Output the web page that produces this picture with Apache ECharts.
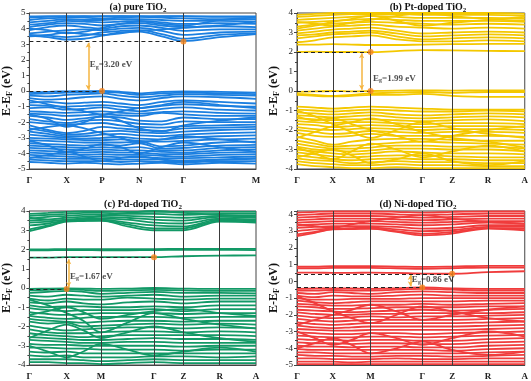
<!DOCTYPE html>
<html><head><meta charset="utf-8">
<script src="https://cdn.jsdelivr.net/npm/echarts@6/dist/echarts.min.js"></script>
<style>html,body{margin:0;padding:0;background:#fff}#c{width:531px;height:381px}</style>
</head><body><div id="c"></div>
<script>
// ---------- (a) pure TiO2 ----------
const kA = [0, 19, 38, 56, 74, 93, 112, 135, 157, 194, 231];
const hsA = [0, 38, 74, 112, 157, 231];
const hsLabA = ['Γ', 'X', 'P', 'N', 'Γ', 'M'];
const cbA = [
  [3.55, 3.45, 3.30, 3.35, 3.55, 3.75, 3.80, 3.50, 3.20, 3.45, 3.65],
  [3.60, 3.55, 3.45, 3.55, 3.75, 3.85, 3.90, 3.65, 3.35, 3.60, 3.70],
  [3.70, 3.80, 3.90, 3.95, 3.90, 4.00, 4.05, 3.85, 3.60, 3.75, 3.80],
  [3.90, 4.10, 4.20, 4.10, 4.00, 4.15, 4.20, 4.05, 3.85, 3.95, 3.95],
  [4.10, 4.25, 4.35, 4.30, 4.20, 4.30, 4.35, 4.20, 4.10, 4.15, 4.10],
  [4.25, 4.35, 4.50, 4.45, 4.40, 4.45, 4.50, 4.40, 4.30, 4.35, 4.30],
  [4.40, 4.50, 4.60, 4.55, 4.55, 4.60, 4.60, 4.55, 4.50, 4.50, 4.45],
  [4.55, 4.65, 4.70, 4.70, 4.65, 4.70, 4.75, 4.70, 4.65, 4.60, 4.60],
  [4.70, 4.75, 4.78, 4.80, 4.78, 4.80, 4.80, 4.78, 4.78, 4.75, 4.75],
  [4.78, 4.80, 4.80, 4.78, 4.80, 4.80, 4.78, 4.80, 4.80, 4.78, 4.78],
  [3.50, 3.60, 3.75, 3.65, 3.60, 3.70, 3.85, 3.95, 4.05, 4.20, 4.45],
  [4.00, 3.90, 3.70, 3.80, 4.05, 4.30, 4.45, 4.30, 4.20, 4.55, 4.70]
];
const vbA = [
  [-0.10, -0.05, -0.02, -0.01, 0.00, -0.05, -0.15, -0.05, -0.02, -0.05, -0.10],
  [-0.20, -0.15, -0.10, -0.08, -0.05, -0.12, -0.25, -0.15, -0.10, -0.15, -0.20],
  [-0.30, -0.35, -0.25, -0.20, -0.15, -0.30, -0.40, -0.30, -0.20, -0.25, -0.30],
  [-0.45, -0.55, -0.50, -0.40, -0.35, -0.50, -0.60, -0.45, -0.35, -0.40, -0.50],
  [-0.75, -0.70, -0.80, -0.75, -0.70, -0.80, -0.90, -0.70, -0.60, -0.70, -0.80],
  [-0.90, -0.95, -1.00, -0.95, -0.90, -1.00, -1.10, -0.95, -0.85, -0.95, -1.00],
  [-1.10, -1.05, -1.20, -1.15, -1.05, -1.20, -1.30, -1.15, -1.05, -1.20, -1.25],
  [-1.30, -1.35, -1.40, -1.35, -1.30, -1.40, -1.45, -1.35, -1.30, -1.40, -1.45],
  [-1.45, -1.50, -1.60, -1.55, -1.50, -1.55, -1.60, -1.40, -1.50, -1.60, -1.60],
  [-1.60, -1.70, -1.85, -1.75, -1.65, -1.70, -1.90, -1.95, -1.70, -1.80, -1.80],
  [-1.80, -1.95, -2.05, -1.90, -1.85, -1.95, -2.10, -2.15, -1.95, -2.00, -2.00],
  [-2.00, -2.10, -2.15, -2.10, -2.05, -2.20, -2.30, -2.35, -2.25, -2.20, -2.15],
  [-2.20, -2.50, -2.70, -2.55, -2.30, -2.40, -2.50, -2.55, -2.40, -2.35, -2.30],
  [-2.40, -2.60, -2.80, -2.75, -2.60, -2.55, -2.65, -2.70, -2.60, -2.50, -2.45],
  [-2.60, -2.75, -2.90, -2.90, -2.80, -2.75, -2.85, -2.90, -2.80, -2.70, -2.65],
  [-2.80, -2.90, -3.00, -3.05, -3.00, -2.95, -3.05, -3.10, -3.00, -2.90, -2.85],
  [-3.00, -3.05, -3.10, -3.15, -3.15, -3.10, -3.20, -3.25, -3.20, -3.10, -3.05],
  [-3.15, -3.20, -3.25, -3.30, -3.30, -3.30, -3.25, -3.55, -3.50, -3.30, -3.25],
  [-3.35, -3.40, -3.45, -3.50, -3.45, -3.50, -3.35, -3.70, -3.65, -3.50, -3.45],
  [-3.50, -3.55, -3.60, -3.65, -3.60, -3.65, -3.60, -3.80, -3.80, -3.65, -3.60],
  [-3.65, -3.70, -3.75, -3.80, -3.75, -3.80, -3.80, -3.90, -3.95, -3.80, -3.75],
  [-3.80, -3.85, -3.90, -3.95, -3.90, -3.95, -3.95, -4.05, -4.05, -3.95, -3.90],
  [-3.95, -4.00, -4.05, -4.10, -4.05, -4.10, -4.10, -4.15, -4.20, -4.10, -4.05],
  [-4.10, -4.15, -4.20, -4.25, -4.20, -4.25, -4.25, -4.30, -4.30, -4.25, -4.20],
  [-4.25, -4.30, -4.35, -4.35, -4.35, -4.40, -4.40, -4.40, -4.45, -4.40, -4.35],
  [-4.40, -4.45, -4.50, -4.50, -4.50, -4.55, -4.50, -4.55, -4.55, -4.50, -4.50],
  [-4.55, -4.60, -4.65, -4.60, -4.65, -4.70, -4.65, -4.60, -4.70, -4.60, -4.65],
  [-0.60, -0.85, -1.10, -1.30, -1.50, -1.30, -1.10, -0.90, -0.70, -0.90, -1.10],
  [-1.50, -1.80, -2.30, -2.00, -1.60, -1.90, -2.40, -2.60, -2.20, -1.90, -1.70],
  [-2.50, -2.30, -2.20, -2.40, -2.70, -3.00, -3.30, -3.10, -2.90, -3.10, -3.30],
  [-3.20, -3.50, -3.90, -3.70, -3.40, -3.60, -4.00, -3.60, -3.30, -3.60, -3.90],
  [-4.30, -4.10, -3.90, -4.20, -4.50, -4.30, -4.20, -4.40, -4.60, -4.40, -4.30]
];
const vbmA = [74, 0.0], cbmA = [157, 3.18], arrowA = [60, 0.08, 3.1], txtA = [61, 1.7];

// ---------- (b) Pt-doped TiO2 ----------
const kB = [0, 18, 36, 55, 74, 100, 126, 156, 192, 229];
const hsB = [0, 36, 74, 126, 156, 192, 229];
const hsLabB = ['Γ', 'X', 'M', 'Γ', 'Z', 'R', 'A'];
const cbB = [
  [2.00, 2.02, 2.00, 2.00, 1.99, 2.05, 2.10, 2.08, 2.06, 2.04],
  [2.38, 2.38, 2.40, 2.38, 2.36, 2.36, 2.38, 2.40, 2.42, 2.42],
  [2.50, 2.60, 2.75, 2.80, 2.85, 2.65, 2.55, 2.55, 2.60, 2.55],
  [2.70, 2.80, 2.90, 2.95, 3.00, 2.80, 2.65, 2.70, 2.75, 2.70],
  [2.85, 2.90, 3.00, 3.05, 3.10, 2.95, 2.80, 2.85, 2.90, 2.85],
  [2.95, 3.05, 3.15, 3.20, 3.25, 3.10, 2.95, 3.00, 3.05, 3.00],
  [3.10, 3.20, 3.30, 3.35, 3.40, 3.30, 3.25, 3.20, 3.25, 3.20],
  [3.30, 3.40, 3.45, 3.50, 3.55, 3.50, 3.45, 3.40, 3.45, 3.40],
  [3.50, 3.55, 3.60, 3.65, 3.70, 3.65, 3.60, 3.60, 3.60, 3.55],
  [3.65, 3.70, 3.75, 3.80, 3.85, 3.80, 3.75, 3.75, 3.75, 3.70],
  [3.80, 3.85, 3.90, 3.95, 3.95, 3.95, 3.90, 3.90, 3.90, 3.85],
  [3.90, 3.95, 4.00, 4.05, 4.05, 4.05, 4.00, 4.00, 4.00, 3.95],
  [3.20, 3.35, 3.55, 3.70, 3.85, 3.60, 3.35, 3.50, 3.65, 3.80],
  [3.55, 3.45, 3.35, 3.50, 3.65, 3.85, 4.00, 3.85, 3.70, 3.60]
];
const vbB = [
  [-0.05, -0.02, 0.00, -0.02, 0.00, 0.02, 0.03, 0.02, 0.03, 0.03],
  [-0.15, -0.20, -0.25, -0.20, -0.12, -0.08, -0.05, -0.10, -0.05, -0.05],
  [-0.20, -0.25, -0.28, -0.25, -0.20, -0.20, -0.15, -0.25, -0.30, -0.30],
  [-0.80, -0.85, -0.90, -0.85, -0.80, -0.85, -0.90, -0.95, -0.95, -0.95],
  [-0.95, -1.00, -1.05, -1.00, -0.95, -1.00, -1.05, -1.05, -1.00, -1.05],
  [-1.10, -1.15, -1.20, -1.15, -1.10, -1.20, -1.25, -1.20, -1.15, -1.20],
  [-1.25, -1.30, -1.35, -1.30, -1.25, -1.35, -1.40, -1.35, -1.30, -1.35],
  [-1.40, -1.45, -1.50, -1.45, -1.45, -1.50, -1.55, -1.50, -1.45, -1.55],
  [-1.55, -1.60, -1.65, -1.60, -1.60, -1.65, -1.70, -1.65, -1.65, -1.70],
  [-1.70, -1.75, -1.85, -1.80, -1.75, -1.80, -1.85, -1.80, -1.80, -1.85],
  [-1.85, -1.95, -2.00, -1.95, -1.90, -1.95, -2.00, -1.95, -1.95, -2.00],
  [-2.00, -2.10, -2.20, -2.15, -2.05, -2.10, -2.15, -2.10, -2.10, -2.15],
  [-2.15, -2.30, -2.35, -2.30, -2.20, -2.30, -2.30, -2.30, -2.30, -2.35],
  [-2.35, -2.55, -2.75, -2.60, -2.50, -2.45, -2.45, -2.50, -2.55, -2.55],
  [-2.55, -2.70, -2.85, -2.80, -2.75, -2.65, -2.60, -2.65, -2.70, -2.75],
  [-2.70, -2.85, -2.95, -2.95, -2.90, -2.80, -2.80, -2.85, -2.85, -2.95],
  [-2.85, -3.00, -3.05, -3.10, -3.05, -2.95, -2.95, -3.00, -3.00, -3.10],
  [-3.00, -3.10, -3.20, -3.25, -3.20, -3.10, -3.15, -3.20, -3.20, -3.25],
  [-3.15, -3.25, -3.35, -3.40, -3.35, -3.30, -3.30, -3.35, -3.40, -3.40],
  [-3.30, -3.40, -3.50, -3.55, -3.50, -3.45, -3.50, -3.50, -3.55, -3.55],
  [-3.45, -3.55, -3.60, -3.70, -3.65, -3.60, -3.65, -3.65, -3.70, -3.70],
  [-3.60, -3.70, -3.75, -3.80, -3.80, -3.75, -3.80, -3.80, -3.85, -3.85],
  [-3.75, -3.85, -3.90, -3.95, -3.95, -3.90, -3.95, -3.95, -3.95, -3.95],
  [-1.00, -1.30, -1.70, -2.10, -2.40, -2.00, -1.60, -1.90, -2.20, -2.40],
  [-2.40, -2.10, -1.80, -1.60, -1.40, -1.70, -2.10, -2.40, -2.60, -2.90],
  [-2.90, -3.20, -3.50, -3.10, -2.70, -3.00, -3.40, -3.10, -2.80, -3.10],
  [-3.40, -3.20, -3.00, -3.30, -3.70, -3.50, -3.20, -3.60, -3.80, -3.60],
  [-1.30, -1.50, -1.40, -1.70, -2.00, -2.30, -2.60, -2.30, -2.00, -1.80]
];
const vbmB = [74, 0.0], cbmB = [74, 2.0], arrowB = [65, 0.06, 1.93], txtB = [76, 0.65];

// ---------- (c) Pd-doped TiO2 ----------
const kC = [0, 19, 38, 55, 73, 100, 127, 157, 194, 231];
const hsC = [0, 38, 73, 127, 157, 194, 231];
const hsLabC = ['Γ', 'X', 'M', 'Γ', 'Z', 'R', 'A'];
const cbC = [
  [1.58, 1.58, 1.60, 1.60, 1.60, 1.60, 1.60, 1.65, 1.68, 1.70],
  [1.95, 1.96, 1.97, 1.97, 1.96, 1.96, 1.97, 1.98, 1.98, 1.97],
  [2.00, 2.01, 2.02, 2.02, 2.02, 2.02, 2.02, 2.03, 2.03, 2.03],
  [2.95, 3.20, 3.45, 3.48, 3.50, 3.20, 3.00, 3.00, 3.45, 3.40],
  [3.05, 3.25, 3.48, 3.50, 3.50, 3.30, 3.10, 3.10, 3.50, 3.45],
  [3.25, 3.35, 3.50, 3.55, 3.55, 3.40, 3.25, 3.20, 3.55, 3.50],
  [3.40, 3.45, 3.55, 3.60, 3.60, 3.55, 3.40, 3.35, 3.60, 3.55],
  [3.50, 3.55, 3.65, 3.70, 3.70, 3.65, 3.55, 3.50, 3.70, 3.65],
  [3.60, 3.70, 3.75, 3.80, 3.80, 3.75, 3.70, 3.65, 3.75, 3.75],
  [3.75, 3.80, 3.85, 3.90, 3.90, 3.85, 3.85, 3.80, 3.85, 3.85],
  [3.85, 3.90, 3.95, 3.98, 3.98, 3.95, 3.95, 3.95, 3.95, 3.95],
  [3.65, 3.55, 3.50, 3.60, 3.75, 3.90, 4.00, 3.90, 3.80, 3.70]
];
const vbC = [
  [-0.05, -0.03, -0.02, -0.03, -0.05, -0.03, 0.00, -0.03, -0.05, -0.05],
  [-0.12, -0.10, -0.05, -0.10, -0.15, -0.12, -0.10, -0.12, -0.15, -0.15],
  [-0.25, -0.20, -0.15, -0.20, -0.30, -0.25, -0.20, -0.25, -0.25, -0.28],
  [-0.40, -0.45, -0.35, -0.40, -0.45, -0.40, -0.35, -0.45, -0.40, -0.40],
  [-0.55, -0.65, -0.55, -0.60, -0.60, -0.50, -0.55, -0.60, -0.55, -0.55],
  [-0.75, -0.80, -0.70, -0.80, -0.85, -0.75, -0.70, -0.80, -0.70, -0.70],
  [-0.90, -1.00, -0.95, -0.95, -1.00, -1.00, -0.95, -1.00, -0.90, -0.90],
  [-1.05, -1.15, -1.20, -1.15, -1.15, -1.15, -1.10, -1.20, -1.10, -1.10],
  [-1.25, -1.35, -1.40, -1.35, -1.30, -1.30, -1.30, -1.35, -1.30, -1.30],
  [-1.45, -1.55, -1.60, -1.55, -1.50, -1.50, -1.50, -1.55, -1.50, -1.50],
  [-1.60, -1.70, -1.75, -1.80, -1.75, -1.70, -1.70, -1.75, -1.70, -1.70],
  [-1.75, -1.85, -1.80, -2.00, -1.95, -1.90, -1.85, -1.90, -1.85, -1.90],
  [-1.95, -2.10, -2.20, -2.15, -2.10, -2.05, -2.05, -2.10, -2.05, -2.10],
  [-2.15, -2.30, -2.35, -2.35, -2.30, -2.25, -2.25, -2.30, -2.25, -2.30],
  [-2.35, -2.45, -2.50, -2.55, -2.50, -2.45, -2.45, -2.45, -2.45, -2.50],
  [-2.55, -2.60, -2.65, -2.70, -2.70, -2.65, -2.60, -2.65, -2.65, -2.70],
  [-2.70, -2.75, -2.80, -2.85, -2.85, -2.80, -2.80, -2.85, -2.85, -2.85],
  [-2.90, -2.95, -2.95, -3.00, -3.00, -3.00, -3.00, -3.05, -3.00, -3.00],
  [-3.10, -3.10, -3.15, -3.15, -3.20, -3.20, -3.20, -3.25, -3.20, -3.20],
  [-3.30, -3.35, -3.30, -3.40, -3.40, -3.40, -3.40, -3.40, -3.40, -3.40],
  [-3.50, -3.55, -3.50, -3.60, -3.60, -3.60, -3.55, -3.55, -3.60, -3.55],
  [-3.70, -3.70, -3.70, -3.75, -3.80, -3.75, -3.70, -3.75, -3.75, -3.75],
  [-3.85, -3.85, -3.90, -3.90, -3.95, -3.90, -3.85, -3.90, -3.90, -3.90],
  [-0.60, -0.90, -1.30, -1.70, -2.30, -1.80, -1.30, -1.60, -1.90, -2.10],
  [-2.60, -2.20, -1.90, -2.20, -2.60, -2.30, -2.00, -2.30, -2.60, -2.80],
  [-3.00, -3.30, -3.60, -3.30, -2.90, -3.20, -3.50, -3.30, -3.10, -3.30],
  [-1.40, -1.20, -1.00, -1.25, -1.60, -1.40, -1.20, -1.10, -1.30, -1.45]
];
const vbmC = [38, -0.05], cbmC = [127, 1.6], arrowC = [40, 0.05, 1.5], txtC = [41, 0.6];

// ---------- (d) Ni-doped TiO2 ----------
const kD = [0, 18, 36, 55, 74, 100, 126, 156, 192, 229];
const hsD = [0, 36, 74, 126, 156, 192, 229];
const hsLabD = ['Γ', 'X', 'M', 'Γ', 'Z', 'R', 'A'];
const cbD = [
  [0.52, 0.52, 0.50, 0.50, 0.52, 0.50, 0.46, 0.45, 0.55, 0.60],
  [0.78, 0.78, 0.80, 0.80, 0.80, 0.78, 0.75, 0.78, 0.82, 0.82],
  [0.88, 0.88, 0.90, 0.90, 0.90, 0.88, 0.86, 0.88, 0.92, 0.92],
  [2.70, 2.90, 3.10, 3.12, 3.15, 2.95, 2.75, 2.85, 3.15, 3.05],
  [2.80, 2.95, 3.12, 3.15, 3.15, 3.00, 2.85, 2.95, 3.18, 3.15],
  [3.00, 3.10, 3.15, 3.18, 3.20, 3.10, 3.00, 3.05, 3.25, 3.25],
  [3.20, 3.25, 3.30, 3.30, 3.30, 3.25, 3.15, 3.20, 3.35, 3.35],
  [3.35, 3.40, 3.45, 3.45, 3.45, 3.40, 3.35, 3.40, 3.50, 3.45],
  [3.50, 3.55, 3.60, 3.60, 3.60, 3.55, 3.50, 3.55, 3.60, 3.60],
  [3.65, 3.70, 3.75, 3.75, 3.75, 3.70, 3.65, 3.70, 3.75, 3.75],
  [3.80, 3.85, 3.90, 3.90, 3.90, 3.85, 3.80, 3.85, 3.90, 3.90],
  [3.95, 4.00, 4.05, 4.05, 4.05, 4.00, 3.95, 4.00, 4.05, 4.05],
  [4.10, 4.15, 4.18, 4.18, 4.18, 4.15, 4.10, 4.15, 4.18, 4.18],
  [3.40, 3.30, 3.20, 3.40, 3.60, 3.80, 3.95, 3.75, 3.55, 3.45]
];
const vbD = [
  [-0.45, -0.42, -0.42, -0.43, -0.45, -0.42, -0.37, -0.42, -0.45, -0.45],
  [-0.55, -0.55, -0.52, -0.55, -0.55, -0.50, -0.45, -0.50, -0.55, -0.55],
  [-0.70, -0.75, -0.65, -0.70, -0.75, -0.65, -0.60, -0.65, -0.70, -0.70],
  [-0.85, -0.95, -0.85, -0.90, -0.90, -0.85, -0.80, -0.85, -0.85, -0.85],
  [-1.00, -1.10, -1.10, -1.05, -1.05, -1.05, -1.00, -1.00, -1.00, -1.00],
  [-1.15, -1.25, -1.30, -1.25, -1.20, -1.20, -1.20, -1.20, -1.15, -1.15],
  [-1.35, -1.40, -1.45, -1.45, -1.40, -1.40, -1.35, -1.40, -1.35, -1.30],
  [-1.50, -1.55, -1.65, -1.65, -1.60, -1.55, -1.55, -1.55, -1.50, -1.50],
  [-1.70, -1.75, -1.80, -1.85, -1.80, -1.75, -1.70, -1.75, -1.70, -1.65],
  [-1.85, -1.95, -2.00, -2.00, -1.95, -1.95, -1.90, -1.90, -1.90, -1.85],
  [-2.05, -2.15, -2.20, -2.15, -2.10, -2.15, -2.10, -2.10, -2.05, -2.00],
  [-2.25, -2.35, -2.40, -2.35, -2.30, -2.30, -2.30, -2.30, -2.25, -2.20],
  [-2.45, -2.55, -2.60, -2.55, -2.50, -2.50, -2.50, -2.50, -2.45, -2.40],
  [-2.65, -2.75, -2.80, -2.75, -2.70, -2.70, -2.70, -2.70, -2.65, -2.60],
  [-2.85, -2.90, -2.95, -2.95, -2.90, -2.90, -2.90, -2.90, -2.85, -2.80],
  [-3.05, -3.10, -3.15, -3.15, -3.10, -3.10, -3.15, -3.10, -3.05, -3.00],
  [-3.25, -3.30, -3.35, -3.35, -3.30, -3.30, -3.35, -3.30, -3.25, -3.20],
  [-3.45, -3.50, -3.50, -3.55, -3.50, -3.50, -3.55, -3.55, -3.45, -3.40],
  [-3.65, -3.70, -3.70, -3.75, -3.70, -3.70, -3.75, -3.75, -3.65, -3.60],
  [-3.85, -3.90, -3.90, -3.95, -3.90, -3.90, -3.95, -3.95, -3.85, -3.80],
  [-4.05, -4.10, -4.10, -4.10, -4.10, -4.10, -4.10, -4.15, -4.05, -4.00],
  [-4.25, -4.25, -4.30, -4.30, -4.30, -4.30, -4.30, -4.30, -4.25, -4.20],
  [-4.40, -4.45, -4.45, -4.50, -4.50, -4.45, -4.45, -4.50, -4.45, -4.40],
  [-4.60, -4.60, -4.65, -4.65, -4.65, -4.60, -4.65, -4.65, -4.60, -4.60],
  [-4.80, -4.80, -4.80, -4.85, -4.80, -4.80, -4.80, -4.80, -4.80, -4.80],
  [-4.95, -4.95, -4.95, -4.95, -4.95, -4.95, -4.95, -4.95, -4.95, -4.95],
  [-0.90, -1.30, -1.80, -2.20, -2.50, -2.00, -1.50, -1.80, -2.20, -2.40],
  [-2.60, -2.30, -2.00, -1.70, -1.40, -1.80, -2.30, -2.00, -1.70, -1.50],
  [-3.00, -3.40, -3.80, -3.50, -3.10, -3.40, -3.80, -3.40, -3.00, -3.30],
  [-4.00, -3.70, -3.40, -3.80, -4.30, -4.00, -3.60, -4.10, -4.40, -4.20]
];
const vbmD = [126, -0.37], cbmD = [156, 0.45], arrowD = [114, -0.3, 0.38], txtD = [115, 0.08];

const titles = ['(a) pure TiO', '(b) Pt-doped TiO', '(c) Pd-doped TiO', '(d) Ni-doped TiO'];
const gaps = ['3.20', '1.99', '1.67', '0.86'];

// ---------- build chart ----------
const SERIF = 'Liberation Serif, Times New Roman, serif';
const panels = [
  {k: kA, hs: hsA, lab: hsLabA, cb: cbA, vb: vbA, vbm: vbmA, cbm: cbmA, arr: arrowA, txt: txtA,
   color: '#1b7fe0', ymin: -5, ymax: 5, grid: {left: 25, top: 13, width: 231, height: 156}, nameGap: 13, tx: 138, ty: 7},
  {k: kB, hs: hsB, lab: hsLabB, cb: cbB, vb: vbB, vbm: vbmB, cbm: cbmB, arr: arrowB, txt: txtB,
   color: '#f4c800', ymin: -4, ymax: 4, grid: {left: 297, top: 13, width: 229, height: 156}, nameGap: 16, tx: 428, ty: 7},
  {k: kC, hs: hsC, lab: hsLabC, cb: cbC, vb: vbC, vbm: vbmC, cbm: cbmC, arr: arrowC, txt: txtC,
   color: '#129966', ymin: -4, ymax: 4, grid: {left: 25, top: 211, width: 231, height: 155}, nameGap: 13, tx: 143, ty: 204},
  {k: kD, hs: hsD, lab: hsLabD, cb: cbD, vb: vbD, vbm: vbmD, cbm: cbmD, arr: arrowD, txt: txtD,
   color: '#f03c3c', ymin: -5, ymax: 4.2, grid: {left: 297, top: 211, width: 229, height: 155}, nameGap: 16, tx: 418, ty: 204}
];

const option = {
  animation: false,
  backgroundColor: '#fff',
  grid: [], xAxis: [], yAxis: [], series: [], graphic: []
};

panels.forEach((p, gi) => {
  option.grid.push(Object.assign({show: true, borderColor: '#444', borderWidth: 1, backgroundColor: 'transparent'}, p.grid));
  const kmax = p.hs[p.hs.length - 1];
  option.xAxis.push({
    type: 'value', gridIndex: gi, min: 0, max: kmax,
    axisLine: {show: true, onZero: false, lineStyle: {color: '#444'}},
    axisTick: {show: false}, splitLine: {show: false},
    axisLabel: {
      customValues: p.hs, margin: 7, color: '#222', fontFamily: SERIF, fontSize: 9, fontWeight: 'bold',
      formatter: v => { const i = p.hs.indexOf(v); return i >= 0 ? p.lab[i] : ''; }
    }
  });
  option.yAxis.push({
    type: 'value', gridIndex: gi, min: p.ymin, max: p.ymax, interval: 1,
    name: 'E-E{s|F} (eV)', nameLocation: 'middle', nameRotate: 90, nameGap: p.nameGap,
    nameTextStyle: {fontFamily: SERIF, fontSize: 12, fontWeight: 'bold', color: '#111',
      rich: {s: {fontFamily: SERIF, fontSize: 8, fontWeight: 'bold', color: '#111', verticalAlign: 'bottom', padding: [6, 0, 0, 0]}}},
    axisLine: {show: true, onZero: false, lineStyle: {color: '#444'}},
    axisTick: {show: true, inside: false, length: 3, lineStyle: {color: '#444'}},
    minorTick: {show: true, splitNumber: 2, length: 2, lineStyle: {color: '#444'}},
    splitLine: {show: false},
    axisLabel: {margin: 4, color: '#222', fontFamily: SERIF, fontSize: 9,
      formatter: v => (Math.abs(v - Math.round(v)) < 1e-6 ? String(Math.round(v)) : '')}
  });
  // bands
  p.cb.concat(p.vb).forEach(b => {
    option.series.push({
      type: 'line', xAxisIndex: gi, yAxisIndex: gi, silent: true, clip: true, z: 2,
      data: b.map((e, j) => [p.k[j], e]), smooth: 0.35, symbol: 'none',
      lineStyle: {color: p.color, width: 1.8}
    });
  });
  // vertical high-symmetry lines
  option.series.push({
    type: 'line', xAxisIndex: gi, yAxisIndex: gi, silent: true, z: 4, symbol: 'none',
    data: [[0, p.ymin]],
    markLine: {silent: true, symbol: 'none', label: {show: false}, animation: false,
      lineStyle: {color: '#3a3a3a', width: 1, type: 'solid'},
      data: p.hs.slice(1, -1).map(v => ({xAxis: v}))}
  });
  // gap annotation: dashed lines, arrow, dots, label
  option.series.push({
    type: 'scatter', xAxisIndex: gi, yAxisIndex: gi, silent: true, z: 6,
    symbolSize: 6, itemStyle: {color: '#f7861c'},
    data: [p.vbm, p.cbm],
    markLine: {silent: true, animation: false, label: {show: false},
      data: [
        [{coord: [0, p.vbm[1]], symbol: 'none', lineStyle: {color: '#222', type: [4, 3], width: 1}}, {coord: [p.vbm[0], p.vbm[1]], symbol: 'none'}],
        [{coord: [0, p.cbm[1]], symbol: 'none', lineStyle: {color: '#222', type: [4, 3], width: 1}}, {coord: [p.cbm[0], p.cbm[1]], symbol: 'none'}],
        [{coord: [p.arr[0], p.arr[1]], symbol: 'arrow', symbolSize: [4, 5], lineStyle: {color: '#f5b441', type: 'solid', width: 1.5}},
         {coord: [p.arr[0], p.arr[2]], symbol: 'arrow', symbolSize: [4, 5]}]
      ]}
  });
  option.series.push({
    type: 'scatter', xAxisIndex: gi, yAxisIndex: gi, silent: true, z: 7,
    symbolSize: 1, itemStyle: {color: 'transparent'},
    data: [p.txt],
    label: {show: true, position: 'right', distance: 0,
      formatter: 'E{s|g}=' + gaps[gi] + ' eV',
      fontFamily: SERIF, fontSize: 9, fontWeight: 'bold', color: '#222',
      rich: {s: {fontFamily: SERIF, fontSize: 6, fontWeight: 'bold', color: '#222', padding: [5, 0, 0, 0]}}}
  });
  option.graphic.push({
    type: 'text', x: p.tx, y: p.ty, silent: true,
    style: {text: titles[gi] + '{s|2}', textAlign: 'center', textVerticalAlign: 'middle', align: 'center', verticalAlign: 'middle',
      font: 'bold 10px ' + SERIF, fill: '#111',
      rich: {s: {font: 'bold 7px ' + SERIF, fill: '#111', padding: [6, 0, 0, 0]}}}
  });
});

const chart = echarts.init(document.getElementById('c'), null, {renderer: 'canvas', width: 531, height: 381});
chart.setOption(option);
</script>
</body></html>
